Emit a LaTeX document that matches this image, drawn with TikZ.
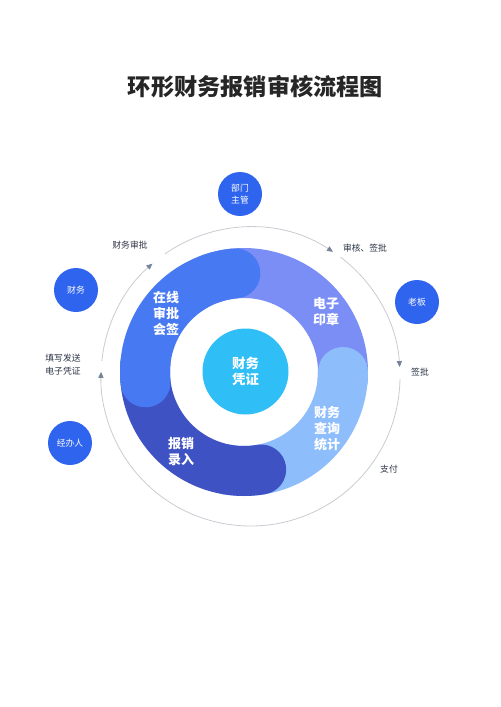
\documentclass[tikz,border=0pt]{standalone}
\usepackage{fontspec}
\setmainfont{Noto Sans CJK SC}
\usepackage{tikz}
\usetikzlibrary{arrows.meta,positioning}
\definecolor{segblue}{HTML}{4779F2}
\definecolor{seglav}{HTML}{7B8EF6}
\definecolor{seglight}{HTML}{8DBDFB}
\definecolor{segnavy}{HTML}{3F52C3}
\definecolor{coreblue}{HTML}{2FBEF6}
\definecolor{rolec}{HTML}{2F64EE}
\definecolor{ringc}{HTML}{C9CCD2}
\definecolor{arrc}{HTML}{76849A}
\definecolor{lblc}{HTML}{2B3445}

\begin{document}
\begin{tikzpicture}[x = 0.5pt, y = -0.5pt,
  seg/.style = {line width = 25pt, line cap = round},
  role/.style = {circle, fill = rolec, minimum size = 22pt, inner sep = 0pt, text = white, align = center, font = \fontsize{4.4}{6}\selectfont},
  ringtxt/.style = {text = white, align = center, font = \bfseries\fontsize{6.5}{8}\selectfont},
  lbl/.style = {text = lblc, align = center, font = \fontsize{4.4}{6.5}\selectfont},
  flow/.style = {draw = ringc, line width = 0.4pt, -{Triangle[length = 3pt, width = 2.6pt, color = arrc]}}]
\fill[white] (0, 0) rectangle (500, 707);
\useasboundingbox (0, 0) rectangle (500, 707);

\node[font = \bfseries\fontsize{11.6}{14}\selectfont, text = black!85] (title) at (255.5, 87) {环形财务报销审核流程图};

\coordinate (c) at (244, 372);
\coordinate (o) at (250.5, 376.5);

\draw[seg, seglav] (c) ++(5:99) arc[start angle = 5, end angle = -110, radius = 99];
\draw[seg, seglight] (c) ++(100:99) arc[start angle = 100, end angle = 0, radius = 99];
\draw[seg, segnavy] (c) ++(-175:99) arc[start angle = -175, end angle = -280, radius = 99];
\draw[seg, segblue] (c) ++(-95:99) arc[start angle = -95, end angle = -186, radius = 99];

\node[circle, fill = coreblue, minimum size = 43pt, inner sep = 0pt, ringtxt, font = \bfseries\fontsize{6.7}{8}\selectfont] (core) at (245.5, 371.5) {财务\\凭证};

\node[ringtxt] (sign) at (166, 314) {在线\\审批\\会签};
\node[ringtxt] (seal) at (326, 311.5) {电子\\印章};
\node[ringtxt] (query) at (327, 428.5) {财务\\查询\\统计};
\node[ringtxt] (entry) at (181, 451.5) {报销\\录入};

\draw[flow] (o) ++(1:149.5) arc[start angle = 1, end angle = 181.8, radius = 149.5];
\draw[flow] (o) ++(-174:149.5) arc[start angle = -174, end angle = -131, radius = 149.5];
\draw[flow] (o) ++(-125:149.5) arc[start angle = -125, end angle = -56.5, radius = 149.5];
\draw[flow] (o) ++(-53:149.5) arc[start angle = -53, end angle = -3.6, radius = 149.5];

\node[role] (mgr) at (240, 194) {部门\\主管};
\node[role] (boss) at (417, 302) {老板};
\node[role] (fin) at (76, 290) {财务};
\node[role] (clerk) at (70, 443) {经办人};

\node[lbl] (l1) at (130, 245) {财务审批};
\node[lbl] (l2) at (365, 248) {审核、签批};
\node[lbl] (l3) at (420, 372) {签批};
\node[lbl] (l4) at (63, 364.5) {填写发送\\电子凭证};
\node[lbl] (l5) at (389, 469) {支付};

\end{tikzpicture}
\end{document}
